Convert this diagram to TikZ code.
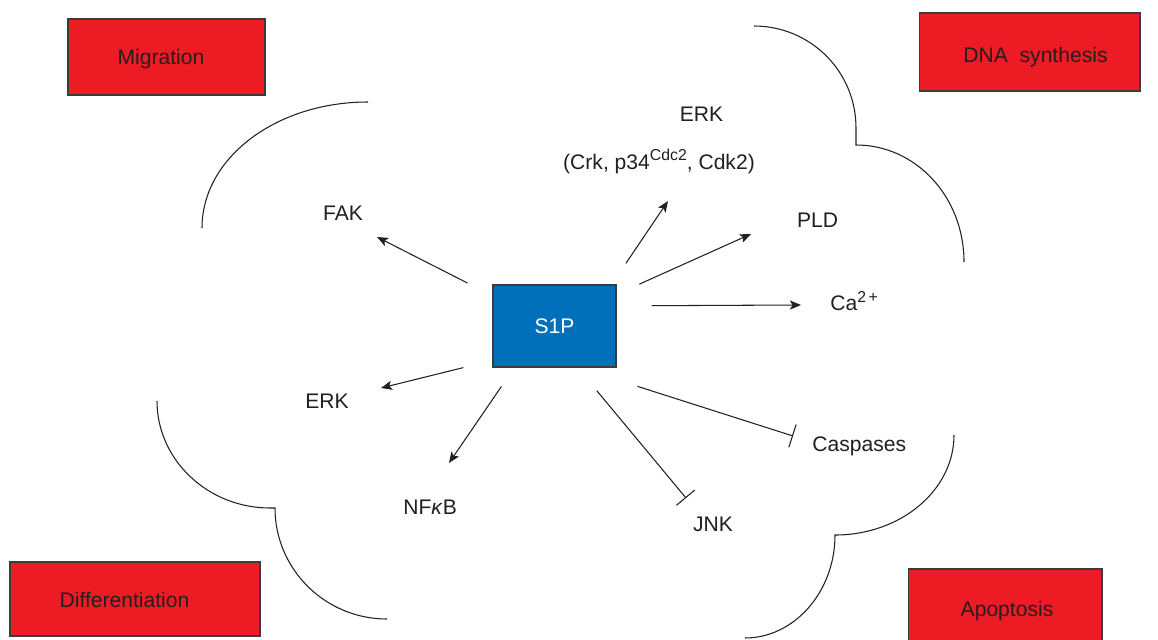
\documentclass[tikz,border=0pt]{standalone}
\usepackage{fontspec}
\setmainfont{Liberation Sans}
\usepackage{tikz}
\usetikzlibrary{arrows.meta,positioning}
\definecolor{boxred}{RGB}{237,28,36}
\definecolor{s1pblue}{RGB}{0,112,186}
\definecolor{inkgray}{RGB}{35,31,32}
\definecolor{edgegray}{RGB}{60,60,60}
\newcommand{\upscript}[1]{\raisebox{4.6pt}{\fontsize{9}{10}\selectfont #1}}

\begin{document}
\begin{tikzpicture}[x=0.02cm, y=-0.02cm,
    act/.style={draw=inkgray, line width=0.6pt, -{Stealth[length=2.2mm, width=1.8mm, inset=0.5mm]}},
    inh/.style={draw=inkgray, line width=0.6pt, -{Bar[width=4.8mm, line width=0.6pt]}},
    cloud/.style={draw=inkgray, line width=0.6pt},
    molname/.style={font=\fontsize{12}{14}\selectfont, text=inkgray, inner sep=0pt, anchor=base},
    outcome/.style={draw=edgegray, line width=0.6pt, fill=boxred, inner sep=0pt},
    hub/.style={draw=edgegray, line width=0.6pt, fill=s1pblue, text=white, font=\fontsize{12}{14}\selectfont, minimum width=2.46cm, minimum height=1.64cm, inner sep=0pt}]
        \useasboundingbox (0,0) rectangle (1158,639);

        % Outcome boxes in the corners
        \node[outcome, minimum width=3.94cm, minimum height=1.52cm] (migbox) at (166.5,57) {};
        \node[outcome, minimum width=4.42cm, minimum height=1.56cm] (dnabox) at (1029.5,52) {};
        \node[outcome, minimum width=5.0cm, minimum height=1.48cm] (diffbox) at (135,599) {};
        \node[outcome, minimum width=3.88cm, minimum height=1.52cm] (apobox) at (1005,607) {};
        \node[molname] (migtext) at (161,64.3) {Migration};
        \node[molname] (dnatext) at (1035.5,62.7) {DNA\ \ synthesis};
        \node[molname] (difftext) at (124.5,607) {Differentiation};
        \node[molname] (apotext) at (1007,616) {Apoptosis};

        % Cloud outlines
        \draw[cloud] (202,228) .. controls +(0,-70) and +(-92,0) .. (368,102);
        \draw[cloud] (754,26) .. controls +(56,0) and +(0,-57) .. (856,128) -- (856,145)
            .. controls +(60,0) and +(0,-65) .. (964,262);
        \draw[cloud] (157,401) .. controls +(0,59) and +(-62,0) .. (270,508) -- (275,508)
            .. controls +(0,61) and +(-62,0) .. (387,619);
        \draw[cloud] (954,435) .. controls +(0,55) and +(66,0) .. (835,535)
            .. controls +(0,57) and +(49,0) .. (745,638);

        % Centre node
        \node[hub] (s1p) at (554.5,326) {S1P};

        % Targets
        \node[molname] (erkup) at (701.5,121) {ERK};
        \node[molname] (crk) at (659,169) {(Crk, p34\upscript{Cdc2}, Cdk2)};
        \node[molname] (pld) at (817.5,227) {PLD};
        \node[molname, anchor=base west] (ca) at (830,310.7) {Ca\upscript{2\,+}};
        \node[molname] (fak) at (343,220) {FAK};
        \node[molname] (erkdown) at (327,408) {ERK};
        \node[molname, anchor=base west] (nfkb) at (403,514) {NF\textit{κ}B};
        \node[molname] (jnk) at (713,531) {JNK};
        \node[molname, anchor=base west] (casp) at (812,451.5) {Caspases};

        % Arrow ends
        \coordinate (erkup-in) at (668,201);
        \coordinate (pld-in) at (751,234);
        \coordinate (ca-in) at (801,305);
        \coordinate (fak-in) at (377,237);
        \coordinate (erkdown-in) at (381,388);
        \coordinate (nfkb-in) at (449,463);
        \coordinate (jnk-in) at (686,498);
        \coordinate (casp-in) at (793,436);

        % Connectors
        \draw[act, shorten <=0.51cm] (s1p.36.8) -- (erkup-in);
        \draw[act, shorten <=0.50cm] (s1p.27.3) -- (pld-in);
        \draw[act, shorten <=0.70cm] (s1p.18.85) -- (ca-in);
        \draw[act, shorten <=0.56cm] (s1p.154.7) -- (fak-in);
        \draw[act, shorten <=0.60cm] (s1p.209.6) -- (erkdown-in);
        \draw[act, shorten <=0.46cm] (s1p.226.1) -- (nfkb-in);
        \draw[inh, shorten <=0.60cm] (s1p.-61.5) -- (jnk-in);
        \draw[inh, shorten <=1.24cm] (s1p.-60.2) -- (casp-in);
    \end{tikzpicture}
\end{document}
